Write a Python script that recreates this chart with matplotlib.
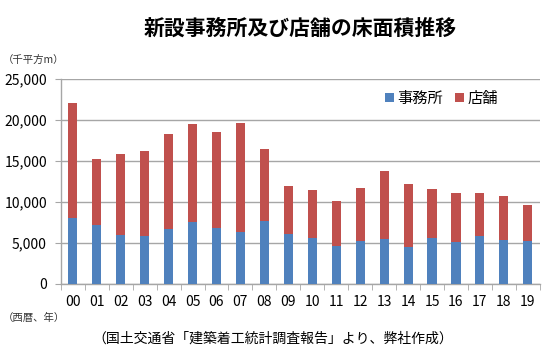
import matplotlib
matplotlib.use("Agg")
import matplotlib.pyplot as plt
import numpy as np

plt.rcParams['font.family'] = ['Noto Sans CJK JP', 'DejaVu Sans']

years = ["00", "01", "02", "03", "04", "05", "06", "07", "08", "09",
         "10", "11", "12", "13", "14", "15", "16", "17", "18", "19"]
office = [8.05, 7.23, 5.96, 5.88, 6.65, 7.55, 6.86, 6.29, 7.72, 6.13,
          5.57, 4.69, 5.27, 5.43, 4.57, 5.59, 5.10, 5.80, 5.39, 5.27]
total = [22.1, 15.27, 15.85, 16.25, 18.3, 19.5, 18.5, 19.6, 16.5, 11.96,
         11.43, 10.09, 11.76, 13.76, 12.17, 11.64, 11.15, 11.07, 10.74, 9.6]
office = [v * 1000 for v in office]
store = [t * 1000 - o for t, o in zip(total, office)]

blue = "#4F81BD"
red = "#C0504D"
grid_c = "#A6A6A6"

fig = plt.figure(figsize=(5.48, 3.57), dpi=100)
ax = fig.add_axes([0.111, 0.2045, 0.874, 0.5745])

x = np.arange(len(years))
w = 0.38
ax.bar(x, office, w, color=blue, label="事務所", zorder=3)
ax.bar(x, store, w, bottom=office, color=red, label="店舗", zorder=3)

ax.set_xlim(-0.5, len(years) - 0.5)
ax.set_ylim(0, 25000)
ax.set_yticks(np.arange(0, 25001, 5000))
ax.set_yticklabels([f"{v:,}" for v in range(0, 25001, 5000)], fontsize=10)
ax.yaxis.grid(True, color=grid_c, linewidth=1, zorder=0)
ax.set_axisbelow(True)

ax.set_xticks(x)
ax.set_xticklabels(years, fontsize=10)
ax.tick_params(axis='x', length=0, pad=8)
ax.set_xticks(np.arange(-0.5, len(years), 1), minor=True)
ax.tick_params(axis='x', which='minor', length=4, color=grid_c, direction='out')
ax.tick_params(axis='y', length=4, color=grid_c, direction='out', pad=6)

for s in ['top', 'right']:
    ax.spines[s].set_visible(False)
for s in ['left', 'bottom']:
    ax.spines[s].set_color(grid_c)
    ax.spines[s].set_linewidth(1)

leg = ax.legend(loc='upper left', bbox_to_anchor=(0.655, 1.0),
                ncol=2, frameon=False, fontsize=11, handlelength=0.55,
                handleheight=0.55, handletextpad=0.25, columnspacing=0.8,
                borderaxespad=0.3)

fig.text(0.548, 0.92, "新設事務所及び店舗の床面積推移", ha='center', va='center',
         fontsize=15, fontweight='bold')
fig.text(0.005, 0.832, "（千平方m）", ha='left', va='center', fontsize=7.5, color='#333333')
fig.text(0.005, 0.11, "（西暦、年）", ha='left', va='center', fontsize=7.5, color='#333333')
fig.text(0.497, 0.052, "（国土交通省「建築着工統計調査報告」より、弊社作成）",
         ha='center', va='center', fontsize=10)

fig.savefig("out.png", dpi=100)
